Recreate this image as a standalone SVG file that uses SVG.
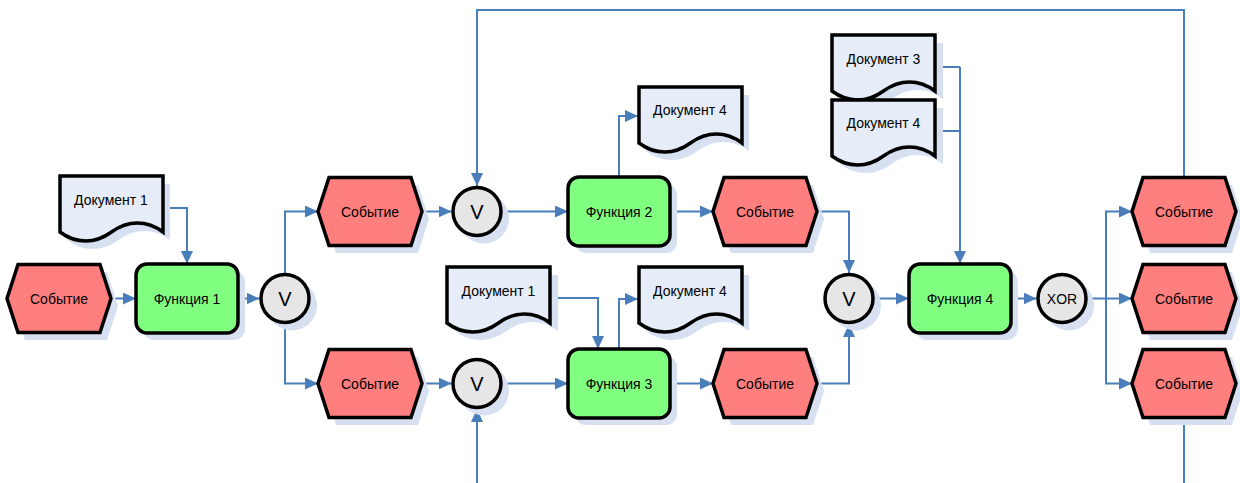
<svg xmlns="http://www.w3.org/2000/svg" width="1240" height="483" viewBox="0 0 1240 483">
  <style>
    .shadow { fill: #d6e0f1; stroke: none; }
    .event { fill: #ff7f7f; stroke: #000; stroke-width: 3.5; stroke-linejoin: miter; }
    .func { fill: #80ff80; stroke: #000; stroke-width: 3.5; }
    .gate { fill: #e6e6e6; stroke: #000; stroke-width: 3.5; }
    .doc { fill: #e6ecf8; stroke: #000; stroke-width: 3.5; stroke-linejoin: miter; }
    .lbl { font-family: "Liberation Sans", Arial, sans-serif; font-size: 14px; fill: #000; text-anchor: middle; dominant-baseline: central; }
    .v { font-size: 20px; }
    .conn path { fill: none; stroke: #4a7ebb; stroke-width: 2; }
    .arr { marker-end: url(#ah); }
  </style>
  <defs>
    <marker id="ah" markerUnits="userSpaceOnUse" markerWidth="14" markerHeight="12" refX="13" refY="6" orient="auto">
      <path d="M0,0 L13,6 L0,12 Z" fill="#4a7ebb"/>
    </marker>
    <!-- shape templates, origin at top-left -->
    <polygon id="hex" points="0,34 11,0 93,0 104,34 93,68 11,68"/>
    <rect id="box" x="0" y="0" width="102" height="69" rx="11" ry="11"/>
    <path id="sheet" d="M0,0 H103 V56 C87,44 68,44 51.5,56 C35,68 16,68 0,56 Z"/>
  </defs>

  <!-- connectors -->
  <g id="connectors" class="conn">
    <path class="arr" d="M111,298.5 H136"/>
    <path class="arr" d="M163,208 H187 V264"/>
    <path class="arr" d="M238,298.5 H259.5"/>
    <path class="arr" d="M285,273 V211.5 H318"/>
    <path class="arr" d="M285,324 V383.5 H318"/>
    <path class="arr" d="M422,211.5 H451.5"/>
    <path class="arr" d="M422,383.5 H451.5"/>
    <path class="arr" d="M502.5,211.5 H568"/>
    <path class="arr" d="M502.5,383.5 H568"/>
    <path class="arr" d="M1184,177.5 V10 H477 V186"/>
    <path class="arr" d="M477,483 V409"/>
    <path class="arr" d="M619,177 V116 H638"/>
    <path class="arr" d="M619,349 V299 H638"/>
    <path class="arr" d="M549,298 H598 V349"/>
    <path class="arr" d="M670,211.5 H713"/>
    <path class="arr" d="M670,383.5 H713"/>
    <path class="arr" d="M817,211.5 H849 V273"/>
    <path class="arr" d="M817,383.5 H849 V324"/>
    <path class="arr" d="M874.5,298.5 H909"/>
    <path d="M934,67 H960 M934,131 H960"/>
    <path class="arr" d="M960,67 V264"/>
    <path class="arr" d="M1011,298.5 H1036.5"/>
    <path class="arr" d="M1087.5,298.5 H1132"/>
    <path class="arr" d="M1106,298.5 V211.5 H1132"/>
    <path class="arr" d="M1106,298.5 V383.5 H1132"/>
    <path d="M1184,417.5 V483"/>
  </g>

  <!-- events -->
  <g id="event-start">
    <use href="#hex" class="shadow" x="14" y="272"/>
    <use href="#hex" class="event" x="7" y="264.5"/>
    <text class="lbl" x="59" y="298.5">Событие</text>
  </g>
  <g id="event-a">
    <use href="#hex" class="shadow" x="325" y="185"/>
    <use href="#hex" class="event" x="318" y="177.5"/>
    <text class="lbl" x="370" y="211.5">Событие</text>
  </g>
  <g id="event-b">
    <use href="#hex" class="shadow" x="325" y="357"/>
    <use href="#hex" class="event" x="318" y="349.5"/>
    <text class="lbl" x="370" y="383.5">Событие</text>
  </g>
  <g id="event-c">
    <use href="#hex" class="shadow" x="720" y="185"/>
    <use href="#hex" class="event" x="713" y="177.5"/>
    <text class="lbl" x="765" y="211.5">Событие</text>
  </g>
  <g id="event-d">
    <use href="#hex" class="shadow" x="720" y="357"/>
    <use href="#hex" class="event" x="713" y="349.5"/>
    <text class="lbl" x="765" y="383.5">Событие</text>
  </g>
  <g id="event-out1">
    <use href="#hex" class="shadow" x="1139" y="185"/>
    <use href="#hex" class="event" x="1132" y="177.5"/>
    <text class="lbl" x="1184" y="211.5">Событие</text>
  </g>
  <g id="event-out2">
    <use href="#hex" class="shadow" x="1139" y="272"/>
    <use href="#hex" class="event" x="1132" y="264.5"/>
    <text class="lbl" x="1184" y="298.5">Событие</text>
  </g>
  <g id="event-out3">
    <use href="#hex" class="shadow" x="1139" y="357"/>
    <use href="#hex" class="event" x="1132" y="349.5"/>
    <text class="lbl" x="1184" y="383.5">Событие</text>
  </g>

  <!-- functions -->
  <g id="func-1">
    <use href="#box" class="shadow" x="143" y="271"/>
    <use href="#box" class="func" x="136" y="264"/>
    <text class="lbl" x="187" y="298.5">Функция 1</text>
  </g>
  <g id="func-2">
    <use href="#box" class="shadow" x="575" y="184"/>
    <use href="#box" class="func" x="568" y="177"/>
    <text class="lbl" x="619" y="211.5">Функция 2</text>
  </g>
  <g id="func-3">
    <use href="#box" class="shadow" x="575" y="356"/>
    <use href="#box" class="func" x="568" y="349"/>
    <text class="lbl" x="619" y="383.5">Функция 3</text>
  </g>
  <g id="func-4">
    <use href="#box" class="shadow" x="916" y="271"/>
    <use href="#box" class="func" x="909" y="264"/>
    <text class="lbl" x="960" y="298.5">Функция 4</text>
  </g>

  <!-- gates -->
  <g id="gate-1">
    <circle class="shadow" cx="292" cy="305.5" r="25"/>
    <circle class="gate" cx="285" cy="298.5" r="24"/>
    <text class="lbl v" x="285" y="299">V</text>
  </g>
  <g id="gate-2">
    <circle class="shadow" cx="484" cy="218.5" r="25"/>
    <circle class="gate" cx="477" cy="211.5" r="24"/>
    <text class="lbl v" x="477" y="212">V</text>
  </g>
  <g id="gate-3">
    <circle class="shadow" cx="484" cy="390.5" r="25"/>
    <circle class="gate" cx="477" cy="383.5" r="24"/>
    <text class="lbl v" x="477" y="384">V</text>
  </g>
  <g id="gate-4">
    <circle class="shadow" cx="856" cy="305.5" r="25"/>
    <circle class="gate" cx="849" cy="298.5" r="24"/>
    <text class="lbl v" x="849" y="299">V</text>
  </g>
  <g id="gate-xor">
    <circle class="shadow" cx="1069" cy="305.5" r="25"/>
    <circle class="gate" cx="1062" cy="298.5" r="24"/>
    <text class="lbl" x="1062" y="298.5">XOR</text>
  </g>

  <!-- documents -->
  <g id="doc-1a">
    <use href="#sheet" class="shadow" x="67" y="184"/>
    <use href="#sheet" class="doc" x="60" y="176"/>
    <text class="lbl" x="111" y="200">Документ 1</text>
  </g>
  <g id="doc-4a">
    <use href="#sheet" class="shadow" x="646" y="95"/>
    <use href="#sheet" class="doc" x="639" y="87"/>
    <text class="lbl" x="690" y="110">Документ 4</text>
  </g>
  <g id="doc-1b">
    <use href="#sheet" class="shadow" x="455" y="275"/>
    <use href="#sheet" class="doc" x="447" y="267"/>
    <text class="lbl" x="498.5" y="291">Документ 1</text>
  </g>
  <g id="doc-4b">
    <use href="#sheet" class="shadow" x="646" y="275"/>
    <use href="#sheet" class="doc" x="639" y="267"/>
    <text class="lbl" x="690" y="291">Документ 4</text>
  </g>
  <g id="doc-3">
    <use href="#sheet" class="shadow" x="840" y="43"/>
    <use href="#sheet" class="doc" x="832" y="35"/>
    <text class="lbl" x="883.5" y="59">Документ 3</text>
  </g>
  <g id="doc-4c">
    <use href="#sheet" class="shadow" x="840" y="108"/>
    <use href="#sheet" class="doc" x="832" y="100"/>
    <text class="lbl" x="883.5" y="123">Документ 4</text>
  </g>
</svg>
